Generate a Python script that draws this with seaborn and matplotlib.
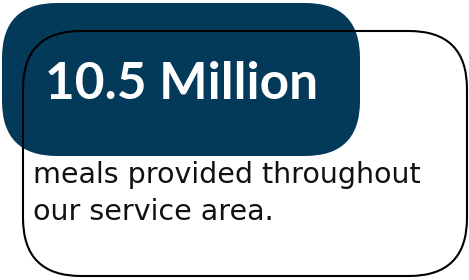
import matplotlib
matplotlib.use("Agg")
import matplotlib.pyplot as plt
from matplotlib.patches import FancyBboxPatch
import seaborn as sns

# content of the tile
headline_value = "10.5 Million"
caption_lines = ["meals provided throughout", "our service area."]
navy = "#033a5a"

sns.set_theme(style="white")
plt.rcParams['font.family'] = ['Lato', 'DejaVu Sans']

fig = plt.figure(figsize=(4.69, 2.80), dpi=100)
ax = fig.add_axes([0, 0, 1, 1])
ax.set_xlim(0, 469)
ax.set_ylim(280, 0)
ax.axis("off")

# dark headline pill
pill = FancyBboxPatch((2, 3), 358, 153, boxstyle="round,pad=0,rounding_size=55",
                      facecolor=navy, edgecolor="none", zorder=1)
ax.add_patch(pill)

# outlined card behind the caption
card = FancyBboxPatch((23, 31), 444, 245, boxstyle="round,pad=0,rounding_size=58",
                      facecolor="none", edgecolor="black", linewidth=1.5, zorder=2)
ax.add_patch(card)

ax.text(45, 99, headline_value, color="white", fontsize=37, fontweight="bold",
        ha="left", va="baseline", zorder=3)

for i, line in enumerate(caption_lines):
    ax.text(33, 183 + i * 37, line, color="#111111", fontsize=20.5,
            family=['DejaVu Sans'], ha="left", va="baseline", zorder=3)

fig.savefig("out.png", dpi=100)
